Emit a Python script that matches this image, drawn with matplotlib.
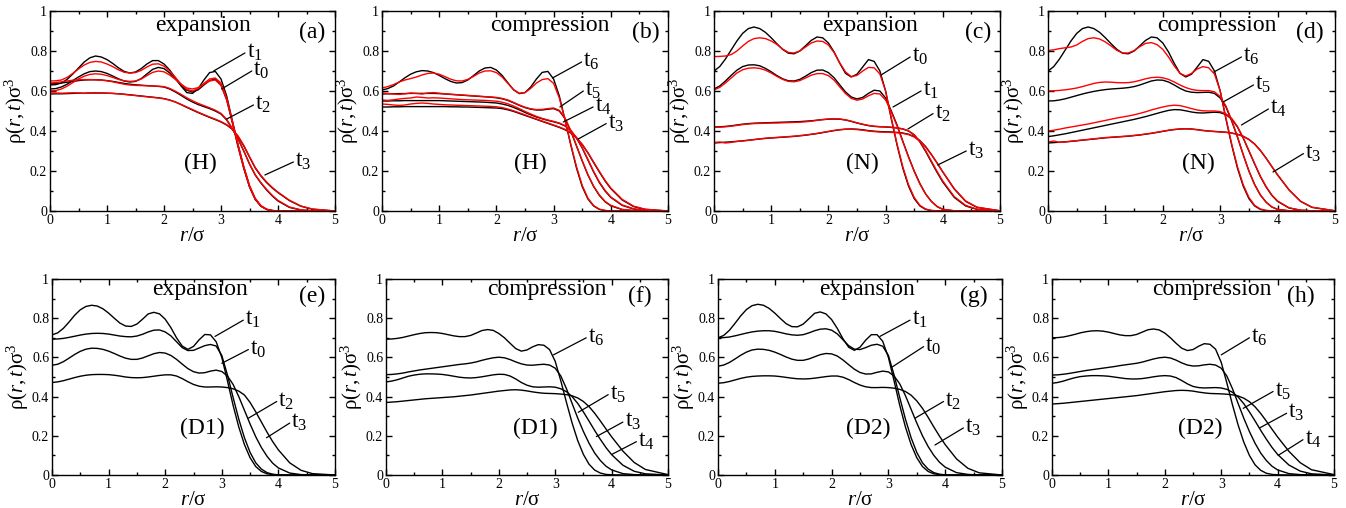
import numpy as np
import matplotlib
matplotlib.use("Agg")
import matplotlib.pyplot as plt
from matplotlib.ticker import MultipleLocator, FuncFormatter

plt.rcParams['font.family'] = 'serif'
plt.rcParams['font.serif'] = ['Liberation Serif', 'DejaVu Serif']
plt.rcParams['mathtext.fontset'] = 'custom'
plt.rcParams['mathtext.rm'] = 'Liberation Serif'
plt.rcParams['mathtext.it'] = 'Liberation Serif:italic'

# r grid shared by all density profiles (r / sigma)
R = [0.0, 0.1, 0.2, 0.3, 0.4, 0.5, 0.6, 0.7, 0.8, 0.9,
     1.0, 1.1, 1.2, 1.3, 1.4, 1.5, 1.6, 1.7, 1.8, 1.9,
     2.0, 2.1, 2.2, 2.3, 2.4, 2.5, 2.6, 2.7, 2.8, 2.9,
     3.0, 3.1, 3.2, 3.3, 3.4, 3.5, 3.6, 3.7, 3.8, 3.9,
     4.0, 4.2, 4.4, 4.6, 5.0]

# ---- (a) H, expansion ----  (_k = black, _r = red)
a_t1_k = [0.630, 0.632, 0.640, 0.658, 0.685, 0.715, 0.745, 0.766, 0.775, 0.770,
          0.757, 0.738, 0.716, 0.698, 0.690, 0.695, 0.712, 0.735, 0.752, 0.752,
          0.735, 0.705, 0.665, 0.625, 0.592, 0.588, 0.612, 0.655, 0.692, 0.698,
          0.660, 0.575, 0.450, 0.330, 0.220, 0.125, 0.060, 0.025, 0.008, 0.002,
          0, 0, 0, 0, 0]
a_t1_r = [0.650, 0.651, 0.655, 0.668, 0.688, 0.710, 0.730, 0.743, 0.748, 0.745,
          0.735, 0.722, 0.706, 0.694, 0.690, 0.692, 0.703, 0.720, 0.734, 0.736,
          0.724, 0.700, 0.668, 0.634, 0.608, 0.600, 0.612, 0.638, 0.660, 0.665,
          0.640, 0.565, 0.445, 0.325, 0.215, 0.122, 0.060, 0.025, 0.008, 0.002,
          0, 0, 0, 0, 0]
a_t0_k = [0.610, 0.612, 0.620, 0.634, 0.652, 0.670, 0.686, 0.697, 0.700, 0.697,
          0.688, 0.675, 0.661, 0.650, 0.645, 0.648, 0.662, 0.685, 0.708, 0.718,
          0.712, 0.690, 0.660, 0.628, 0.604, 0.595, 0.606, 0.630, 0.652, 0.660,
          0.630, 0.555, 0.440, 0.320, 0.212, 0.120, 0.058, 0.024, 0.008, 0.002,
          0, 0, 0, 0, 0]
a_t0_r = [0.600, 0.602, 0.610, 0.624, 0.642, 0.660, 0.674, 0.683, 0.686, 0.684,
          0.677, 0.668, 0.658, 0.651, 0.648, 0.650, 0.660, 0.677, 0.693, 0.700,
          0.696, 0.680, 0.658, 0.634, 0.615, 0.610, 0.617, 0.634, 0.650, 0.655,
          0.628, 0.558, 0.448, 0.330, 0.222, 0.128, 0.064, 0.027, 0.009, 0.003,
          0, 0, 0, 0, 0]
a_t2_k = [0.635, 0.637, 0.640, 0.644, 0.648, 0.652, 0.655, 0.656, 0.656, 0.655,
          0.652, 0.648, 0.643, 0.638, 0.634, 0.631, 0.629, 0.627, 0.625, 0.623,
          0.620, 0.610, 0.595, 0.578, 0.560, 0.545, 0.532, 0.522, 0.512, 0.500,
          0.485, 0.455, 0.410, 0.360, 0.300, 0.235, 0.180, 0.140, 0.105, 0.075,
          0.050, 0.018, 0.005, 0.001, 0]
a_t2_r = [0.640, 0.642, 0.646, 0.650, 0.654, 0.656, 0.657, 0.657, 0.656, 0.654,
          0.651, 0.646, 0.640, 0.634, 0.630, 0.628, 0.627, 0.626, 0.625, 0.624,
          0.622, 0.613, 0.599, 0.583, 0.566, 0.551, 0.538, 0.527, 0.516, 0.504,
          0.488, 0.458, 0.412, 0.360, 0.300, 0.236, 0.182, 0.142, 0.108, 0.078,
          0.053, 0.020, 0.006, 0.001, 0]
a_t3_k = [0.585, 0.586, 0.586, 0.587, 0.588, 0.589, 0.589, 0.590, 0.590, 0.590,
          0.589, 0.588, 0.586, 0.584, 0.581, 0.578, 0.575, 0.572, 0.569, 0.566,
          0.562, 0.555, 0.545, 0.532, 0.518, 0.505, 0.492, 0.480, 0.468, 0.457,
          0.445, 0.430, 0.408, 0.372, 0.325, 0.270, 0.215, 0.175, 0.142, 0.115,
          0.092, 0.052, 0.024, 0.009, 0]
a_t3_r = [0.590, 0.590, 0.589, 0.590, 0.591, 0.590, 0.588, 0.590, 0.592, 0.590,
          0.589, 0.588, 0.586, 0.583, 0.580, 0.577, 0.574, 0.571, 0.568, 0.565,
          0.561, 0.554, 0.545, 0.533, 0.520, 0.507, 0.494, 0.482, 0.470, 0.459,
          0.447, 0.432, 0.410, 0.375, 0.328, 0.272, 0.218, 0.178, 0.145, 0.118,
          0.094, 0.054, 0.025, 0.010, 0]

# ---- (b) H, compression ----
b_t6_k = [0.605, 0.612, 0.625, 0.645, 0.666, 0.684, 0.696, 0.702, 0.700, 0.692,
          0.678, 0.662, 0.648, 0.640, 0.642, 0.655, 0.677, 0.700, 0.715, 0.718,
          0.705, 0.678, 0.641, 0.606, 0.587, 0.592, 0.620, 0.660, 0.693, 0.698,
          0.660, 0.575, 0.455, 0.330, 0.215, 0.122, 0.060, 0.025, 0.008, 0.002,
          0, 0, 0, 0, 0]
b_t6_r = [0.615, 0.622, 0.632, 0.645, 0.655, 0.662, 0.670, 0.680, 0.688, 0.690,
          0.684, 0.672, 0.659, 0.651, 0.650, 0.658, 0.673, 0.690, 0.700, 0.701,
          0.692, 0.670, 0.638, 0.607, 0.589, 0.592, 0.613, 0.640, 0.657, 0.662,
          0.638, 0.565, 0.455, 0.335, 0.222, 0.128, 0.064, 0.027, 0.009, 0.003,
          0, 0, 0, 0, 0]
b_t5_k = [0.585, 0.586, 0.586, 0.587, 0.587, 0.588, 0.588, 0.588, 0.588, 0.588,
          0.587, 0.585, 0.583, 0.581, 0.579, 0.577, 0.575, 0.573, 0.571, 0.569,
          0.566, 0.561, 0.553, 0.541, 0.528, 0.517, 0.509, 0.505, 0.505, 0.509,
          0.512, 0.500, 0.462, 0.400, 0.325, 0.250, 0.180, 0.122, 0.078, 0.046,
          0.026, 0.007, 0.002, 0, 0]
b_t5_r = [0.590, 0.588, 0.585, 0.583, 0.586, 0.590, 0.588, 0.585, 0.590, 0.592,
          0.589, 0.586, 0.584, 0.582, 0.580, 0.578, 0.576, 0.574, 0.572, 0.570,
          0.568, 0.563, 0.555, 0.543, 0.530, 0.519, 0.511, 0.507, 0.508, 0.512,
          0.515, 0.503, 0.465, 0.402, 0.327, 0.252, 0.182, 0.124, 0.080, 0.048,
          0.028, 0.008, 0.002, 0, 0]
b_t4_k = [0.550, 0.550, 0.551, 0.551, 0.552, 0.552, 0.552, 0.552, 0.552, 0.552,
          0.552, 0.551, 0.550, 0.549, 0.548, 0.547, 0.546, 0.545, 0.544, 0.542,
          0.540, 0.535, 0.528, 0.518, 0.506, 0.493, 0.481, 0.470, 0.461, 0.453,
          0.446, 0.438, 0.425, 0.402, 0.365, 0.315, 0.255, 0.195, 0.142, 0.100,
          0.068, 0.028, 0.010, 0.003, 0]
b_t4_r = [0.555, 0.553, 0.556, 0.560, 0.563, 0.565, 0.570, 0.568, 0.565, 0.566,
          0.565, 0.563, 0.561, 0.559, 0.557, 0.556, 0.555, 0.554, 0.553, 0.551,
          0.549, 0.544, 0.536, 0.525, 0.512, 0.498, 0.485, 0.473, 0.463, 0.455,
          0.448, 0.440, 0.427, 0.404, 0.367, 0.317, 0.258, 0.198, 0.145, 0.103,
          0.070, 0.030, 0.011, 0.003, 0]
b_t3_k = [0.520, 0.520, 0.521, 0.521, 0.522, 0.522, 0.522, 0.522, 0.522, 0.522,
          0.522, 0.522, 0.521, 0.521, 0.520, 0.520, 0.519, 0.518, 0.517, 0.516,
          0.515, 0.512, 0.506, 0.498, 0.488, 0.478, 0.468, 0.458, 0.448, 0.438,
          0.428, 0.418, 0.406, 0.390, 0.365, 0.332, 0.290, 0.242, 0.195, 0.150,
          0.112, 0.055, 0.022, 0.008, 0]
b_t3_r = [0.535, 0.533, 0.530, 0.528, 0.530, 0.535, 0.538, 0.540, 0.538, 0.535,
          0.533, 0.531, 0.530, 0.529, 0.528, 0.527, 0.526, 0.525, 0.524, 0.523,
          0.521, 0.517, 0.510, 0.501, 0.491, 0.481, 0.470, 0.460, 0.450, 0.440,
          0.430, 0.420, 0.408, 0.392, 0.367, 0.334, 0.292, 0.245, 0.198, 0.153,
          0.115, 0.058, 0.024, 0.009, 0]

# ---- (c) N, expansion ----
c_t0_k = [0.700, 0.722, 0.760, 0.805, 0.850, 0.888, 0.912, 0.920, 0.912, 0.893,
          0.866, 0.836, 0.808, 0.789, 0.786, 0.800, 0.826, 0.853, 0.870, 0.866,
          0.840, 0.795, 0.738, 0.688, 0.670, 0.684, 0.720, 0.757, 0.748, 0.700,
          0.600, 0.460, 0.330, 0.215, 0.125, 0.062, 0.025, 0.008, 0.002, 0.001,
          0, 0, 0, 0, 0]
c_t0_r = [0.772, 0.773, 0.775, 0.782, 0.800, 0.825, 0.848, 0.862, 0.866, 0.862,
          0.850, 0.833, 0.810, 0.793, 0.790, 0.800, 0.820, 0.840, 0.850, 0.848,
          0.830, 0.792, 0.740, 0.695, 0.672, 0.678, 0.700, 0.718, 0.716, 0.685,
          0.600, 0.465, 0.335, 0.222, 0.132, 0.068, 0.028, 0.010, 0.003, 0.001,
          0, 0, 0, 0, 0]
c_t1_k = [0.610, 0.625, 0.650, 0.678, 0.704, 0.722, 0.730, 0.731, 0.726, 0.713,
          0.696, 0.677, 0.661, 0.651, 0.650, 0.658, 0.674, 0.692, 0.704, 0.705,
          0.692, 0.666, 0.630, 0.595, 0.570, 0.560, 0.568, 0.588, 0.604, 0.600,
          0.565, 0.500, 0.430, 0.350, 0.272, 0.200, 0.137, 0.085, 0.048, 0.022,
          0.008, 0.001, 0, 0, 0]
c_t1_r = [0.605, 0.618, 0.640, 0.665, 0.690, 0.706, 0.714, 0.716, 0.713, 0.704,
          0.690, 0.673, 0.658, 0.648, 0.646, 0.652, 0.665, 0.679, 0.687, 0.687,
          0.677, 0.654, 0.620, 0.587, 0.563, 0.554, 0.560, 0.576, 0.588, 0.585,
          0.555, 0.495, 0.425, 0.347, 0.270, 0.198, 0.135, 0.085, 0.048, 0.023,
          0.009, 0.001, 0, 0, 0]
c_t2_k = [0.420, 0.421, 0.423, 0.426, 0.430, 0.434, 0.437, 0.439, 0.440, 0.441,
          0.442, 0.443, 0.444, 0.445, 0.446, 0.447, 0.449, 0.451, 0.454, 0.457,
          0.459, 0.460, 0.459, 0.455, 0.448, 0.440, 0.433, 0.427, 0.423, 0.421,
          0.420, 0.418, 0.415, 0.410, 0.400, 0.380, 0.345, 0.298, 0.245, 0.193,
          0.145, 0.068, 0.025, 0.008, 0]
c_t2_r = [0.418, 0.419, 0.421, 0.424, 0.428, 0.432, 0.435, 0.437, 0.438, 0.439,
          0.440, 0.440, 0.441, 0.442, 0.443, 0.444, 0.446, 0.449, 0.453, 0.457,
          0.460, 0.461, 0.460, 0.456, 0.449, 0.441, 0.434, 0.428, 0.424, 0.422,
          0.421, 0.419, 0.416, 0.411, 0.401, 0.382, 0.348, 0.302, 0.250, 0.198,
          0.150, 0.072, 0.028, 0.009, 0]
c_t3_k = [0.340, 0.342, 0.344, 0.346, 0.348, 0.351, 0.354, 0.357, 0.360, 0.363,
          0.365, 0.367, 0.369, 0.371, 0.373, 0.376, 0.379, 0.383, 0.387, 0.392,
          0.397, 0.402, 0.406, 0.409, 0.410, 0.409, 0.406, 0.402, 0.399, 0.397,
          0.396, 0.395, 0.393, 0.390, 0.384, 0.372, 0.352, 0.322, 0.283, 0.240,
          0.195, 0.110, 0.048, 0.018, 0.001]
c_t3_r = [0.343, 0.345, 0.340, 0.343, 0.348, 0.350, 0.353, 0.357, 0.361, 0.364,
          0.366, 0.368, 0.370, 0.372, 0.374, 0.377, 0.380, 0.384, 0.388, 0.393,
          0.398, 0.403, 0.407, 0.409, 0.409, 0.407, 0.404, 0.400, 0.397, 0.395,
          0.394, 0.393, 0.391, 0.388, 0.382, 0.370, 0.350, 0.320, 0.282, 0.240,
          0.196, 0.112, 0.050, 0.019, 0.001]

# ---- (d) N, compression ----
d_t6_k = [0.700, 0.722, 0.760, 0.805, 0.850, 0.888, 0.912, 0.920, 0.912, 0.893,
          0.866, 0.836, 0.808, 0.789, 0.786, 0.800, 0.826, 0.853, 0.870, 0.866,
          0.840, 0.795, 0.738, 0.688, 0.670, 0.684, 0.720, 0.757, 0.748, 0.700,
          0.600, 0.460, 0.330, 0.215, 0.125, 0.062, 0.025, 0.008, 0.002, 0.001,
          0, 0, 0, 0, 0]
d_t6_r = [0.802, 0.806, 0.812, 0.816, 0.820, 0.830, 0.848, 0.862, 0.866, 0.860,
          0.845, 0.825, 0.803, 0.790, 0.790, 0.802, 0.822, 0.838, 0.842, 0.832,
          0.808, 0.770, 0.725, 0.688, 0.675, 0.688, 0.710, 0.722, 0.716, 0.685,
          0.600, 0.465, 0.335, 0.222, 0.132, 0.068, 0.028, 0.010, 0.003, 0.001,
          0, 0, 0, 0, 0]
d_t5_k = [0.550, 0.551, 0.555, 0.561, 0.569, 0.577, 0.585, 0.592, 0.598, 0.603,
          0.607, 0.610, 0.612, 0.614, 0.617, 0.622, 0.630, 0.640, 0.650, 0.655,
          0.654, 0.645, 0.630, 0.613, 0.600, 0.594, 0.592, 0.593, 0.594, 0.588,
          0.565, 0.520, 0.450, 0.370, 0.282, 0.200, 0.132, 0.080, 0.044, 0.020,
          0.008, 0.001, 0, 0, 0]
d_t5_r = [0.600, 0.601, 0.603, 0.606, 0.610, 0.615, 0.622, 0.630, 0.638, 0.643,
          0.645, 0.644, 0.642, 0.641, 0.642, 0.646, 0.653, 0.661, 0.667, 0.669,
          0.666, 0.658, 0.645, 0.630, 0.617, 0.608, 0.603, 0.602, 0.602, 0.596,
          0.572, 0.525, 0.455, 0.372, 0.283, 0.200, 0.132, 0.080, 0.044, 0.020,
          0.008, 0.001, 0, 0, 0]
d_t4_k = [0.372, 0.376, 0.381, 0.386, 0.392, 0.398, 0.404, 0.410, 0.416, 0.422,
          0.428, 0.434, 0.440, 0.446, 0.452, 0.458, 0.465, 0.472, 0.480, 0.488,
          0.496, 0.503, 0.507, 0.506, 0.501, 0.495, 0.491, 0.490, 0.492, 0.494,
          0.492, 0.482, 0.460, 0.420, 0.365, 0.300, 0.235, 0.172, 0.120, 0.078,
          0.048, 0.015, 0.004, 0.001, 0]
d_t4_r = [0.400, 0.404, 0.409, 0.415, 0.420, 0.425, 0.430, 0.435, 0.441, 0.447,
          0.453, 0.459, 0.465, 0.470, 0.475, 0.481, 0.488, 0.496, 0.505, 0.513,
          0.520, 0.526, 0.529, 0.527, 0.520, 0.512, 0.505, 0.501, 0.500, 0.500,
          0.497, 0.486, 0.463, 0.423, 0.367, 0.302, 0.237, 0.174, 0.122, 0.080,
          0.050, 0.016, 0.004, 0.001, 0]
d_t3_k = [0.340, 0.342, 0.344, 0.346, 0.348, 0.351, 0.354, 0.357, 0.360, 0.363,
          0.366, 0.368, 0.370, 0.372, 0.374, 0.377, 0.380, 0.384, 0.388, 0.393,
          0.398, 0.403, 0.407, 0.410, 0.411, 0.410, 0.407, 0.403, 0.400, 0.398,
          0.396, 0.394, 0.390, 0.384, 0.374, 0.358, 0.335, 0.303, 0.264, 0.222,
          0.180, 0.105, 0.048, 0.018, 0.001]
d_t3_r = [0.345, 0.350, 0.343, 0.345, 0.349, 0.352, 0.355, 0.358, 0.361, 0.364,
          0.367, 0.369, 0.371, 0.373, 0.375, 0.378, 0.381, 0.385, 0.389, 0.394,
          0.399, 0.404, 0.408, 0.410, 0.411, 0.409, 0.406, 0.402, 0.399, 0.397,
          0.395, 0.393, 0.389, 0.383, 0.373, 0.357, 0.334, 0.302, 0.264, 0.222,
          0.181, 0.106, 0.049, 0.019, 0.001]

# ---- (e) D1, expansion ----
e_t1 = [0.715, 0.725, 0.748, 0.780, 0.815, 0.843, 0.860, 0.866, 0.862, 0.848,
        0.826, 0.800, 0.775, 0.760, 0.758, 0.770, 0.795, 0.822, 0.830, 0.822,
        0.795, 0.752, 0.700, 0.658, 0.641, 0.656, 0.690, 0.717, 0.715, 0.680,
        0.600, 0.480, 0.355, 0.245, 0.155, 0.088, 0.043, 0.018, 0.006, 0.002,
        0, 0, 0, 0, 0]
e_t0 = [0.693, 0.694, 0.697, 0.702, 0.708, 0.714, 0.719, 0.722, 0.723, 0.722,
        0.719, 0.714, 0.709, 0.706, 0.705, 0.709, 0.718, 0.730, 0.739, 0.740,
        0.730, 0.710, 0.680, 0.650, 0.635, 0.636, 0.648, 0.660, 0.666, 0.658,
        0.610, 0.510, 0.395, 0.285, 0.190, 0.115, 0.062, 0.030, 0.012, 0.004,
        0.001, 0, 0, 0, 0]
e_t2 = [0.560, 0.565, 0.578, 0.596, 0.615, 0.631, 0.642, 0.647, 0.646, 0.641,
        0.632, 0.620, 0.607, 0.596, 0.590, 0.590, 0.597, 0.608, 0.619, 0.625,
        0.622, 0.610, 0.590, 0.566, 0.543, 0.527, 0.520, 0.522, 0.530, 0.535,
        0.528, 0.505, 0.462, 0.400, 0.330, 0.260, 0.195, 0.140, 0.095, 0.060,
        0.036, 0.010, 0.002, 0, 0]
e_t3 = [0.472, 0.475, 0.481, 0.489, 0.497, 0.504, 0.509, 0.512, 0.513, 0.513,
        0.512, 0.509, 0.505, 0.500, 0.497, 0.496, 0.497, 0.500, 0.504, 0.508,
        0.511, 0.511, 0.505, 0.492, 0.476, 0.462, 0.453, 0.449, 0.449, 0.450,
        0.449, 0.446, 0.440, 0.428, 0.408, 0.370, 0.322, 0.270, 0.218, 0.170,
        0.128, 0.062, 0.024, 0.007, 0]

# ---- (f) D1, compression ----
f_t6 = [0.693, 0.694, 0.697, 0.702, 0.709, 0.716, 0.722, 0.726, 0.727, 0.726,
        0.722, 0.716, 0.710, 0.706, 0.706, 0.712, 0.724, 0.737, 0.742, 0.738,
        0.722, 0.700, 0.672, 0.645, 0.632, 0.638, 0.654, 0.665, 0.662, 0.640,
        0.580, 0.480, 0.370, 0.265, 0.175, 0.105, 0.055, 0.025, 0.010, 0.003,
        0.001, 0, 0, 0, 0]
f_t5 = [0.512, 0.513, 0.516, 0.520, 0.526, 0.531, 0.536, 0.540, 0.544, 0.548,
        0.552, 0.556, 0.560, 0.564, 0.567, 0.571, 0.577, 0.585, 0.592, 0.598,
        0.601, 0.598, 0.589, 0.577, 0.567, 0.561, 0.560, 0.563, 0.565, 0.561,
        0.545, 0.505, 0.440, 0.365, 0.290, 0.222, 0.162, 0.112, 0.074, 0.045,
        0.026, 0.007, 0.002, 0, 0]
f_t3 = [0.475, 0.479, 0.486, 0.495, 0.504, 0.510, 0.514, 0.516, 0.516, 0.515,
        0.513, 0.509, 0.504, 0.499, 0.496, 0.495, 0.497, 0.501, 0.506, 0.511,
        0.514, 0.513, 0.505, 0.490, 0.472, 0.458, 0.450, 0.448, 0.449, 0.450,
        0.448, 0.440, 0.425, 0.400, 0.365, 0.322, 0.275, 0.227, 0.182, 0.140,
        0.104, 0.050, 0.019, 0.006, 0]
f_t4 = [0.370, 0.372, 0.374, 0.377, 0.380, 0.383, 0.386, 0.389, 0.391, 0.393,
        0.395, 0.397, 0.399, 0.402, 0.405, 0.408, 0.412, 0.416, 0.420, 0.424,
        0.428, 0.431, 0.434, 0.435, 0.433, 0.429, 0.424, 0.420, 0.417, 0.416,
        0.415, 0.413, 0.410, 0.404, 0.393, 0.375, 0.349, 0.315, 0.276, 0.235,
        0.195, 0.122, 0.064, 0.028, 0.002]

# ---- (g) D2, expansion ----
g_t1 = [0.700, 0.712, 0.738, 0.774, 0.812, 0.844, 0.864, 0.871, 0.866, 0.850,
        0.826, 0.798, 0.772, 0.757, 0.756, 0.770, 0.797, 0.825, 0.832, 0.822,
        0.793, 0.748, 0.695, 0.652, 0.636, 0.652, 0.688, 0.716, 0.716, 0.682,
        0.600, 0.480, 0.355, 0.245, 0.155, 0.088, 0.043, 0.018, 0.006, 0.002,
        0, 0, 0, 0, 0]
g_t0 = [0.700, 0.701, 0.704, 0.710, 0.717, 0.724, 0.730, 0.734, 0.736, 0.736,
        0.733, 0.727, 0.720, 0.715, 0.713, 0.716, 0.725, 0.736, 0.744, 0.746,
        0.739, 0.720, 0.690, 0.660, 0.642, 0.640, 0.650, 0.662, 0.667, 0.657,
        0.610, 0.510, 0.395, 0.285, 0.190, 0.115, 0.062, 0.030, 0.012, 0.004,
        0.001, 0, 0, 0, 0]
g_t2 = [0.555, 0.561, 0.574, 0.592, 0.611, 0.627, 0.638, 0.642, 0.641, 0.636,
        0.627, 0.615, 0.602, 0.591, 0.585, 0.585, 0.592, 0.603, 0.614, 0.620,
        0.618, 0.607, 0.587, 0.563, 0.540, 0.523, 0.515, 0.516, 0.524, 0.530,
        0.526, 0.505, 0.465, 0.405, 0.335, 0.265, 0.200, 0.145, 0.100, 0.065,
        0.040, 0.012, 0.003, 0, 0]
g_t3 = [0.468, 0.471, 0.477, 0.485, 0.493, 0.499, 0.503, 0.505, 0.506, 0.506,
        0.505, 0.502, 0.498, 0.494, 0.491, 0.490, 0.491, 0.494, 0.498, 0.502,
        0.505, 0.505, 0.499, 0.487, 0.472, 0.459, 0.450, 0.446, 0.446, 0.447,
        0.446, 0.443, 0.437, 0.426, 0.407, 0.378, 0.340, 0.294, 0.245, 0.198,
        0.155, 0.082, 0.034, 0.011, 0]

# ---- (h) D2, compression ----
h_t6 = [0.700, 0.701, 0.704, 0.710, 0.717, 0.725, 0.731, 0.735, 0.736, 0.734,
        0.729, 0.722, 0.715, 0.711, 0.711, 0.717, 0.729, 0.741, 0.745, 0.740,
        0.724, 0.700, 0.672, 0.647, 0.635, 0.640, 0.657, 0.670, 0.667, 0.642,
        0.575, 0.470, 0.358, 0.255, 0.168, 0.100, 0.052, 0.024, 0.009, 0.003,
        0.001, 0, 0, 0, 0]
h_t5 = [0.510, 0.511, 0.514, 0.518, 0.523, 0.528, 0.533, 0.537, 0.541, 0.545,
        0.549, 0.553, 0.558, 0.562, 0.566, 0.570, 0.576, 0.584, 0.592, 0.598,
        0.601, 0.597, 0.586, 0.572, 0.561, 0.556, 0.557, 0.562, 0.565, 0.561,
        0.545, 0.505, 0.440, 0.365, 0.290, 0.222, 0.162, 0.112, 0.074, 0.045,
        0.026, 0.007, 0.002, 0, 0]
h_t3 = [0.468, 0.472, 0.479, 0.488, 0.496, 0.502, 0.505, 0.507, 0.507, 0.506,
        0.504, 0.500, 0.496, 0.492, 0.490, 0.490, 0.492, 0.496, 0.501, 0.505,
        0.507, 0.505, 0.497, 0.482, 0.465, 0.452, 0.446, 0.444, 0.445, 0.446,
        0.444, 0.437, 0.422, 0.398, 0.364, 0.322, 0.276, 0.228, 0.183, 0.141,
        0.105, 0.051, 0.020, 0.006, 0]
h_t4 = [0.362, 0.364, 0.366, 0.369, 0.372, 0.375, 0.378, 0.381, 0.384, 0.387,
        0.390, 0.393, 0.396, 0.399, 0.402, 0.405, 0.409, 0.413, 0.417, 0.421,
        0.425, 0.428, 0.431, 0.432, 0.431, 0.428, 0.423, 0.419, 0.416, 0.415,
        0.414, 0.412, 0.409, 0.403, 0.392, 0.374, 0.348, 0.314, 0.275, 0.234,
        0.194, 0.121, 0.063, 0.027, 0.002]

panels = [
    dict(tag='(a)', title='expansion', model='(H)', rect=(50, 11, 285, 200),
         black=[a_t1_k, a_t0_k, a_t2_k, a_t3_k], red=[a_t1_r, a_t0_r, a_t2_r, a_t3_r],
         labels=[('1', (2.87, 0.70), (3.42, 0.79)), ('0', (3.01, 0.61), (3.54, 0.70)),
                 ('2', (3.10, 0.46), (3.57, 0.53)), ('3', (3.77, 0.18), (4.27, 0.245))],
         pos=(2.69, 4.59, 2.63)),
    dict(tag='(b)', title='compression', model='(H)', rect=(382, 11, 286, 200),
         black=[b_t6_k, b_t5_k, b_t4_k, b_t3_k], red=[b_t6_r, b_t5_r, b_t4_r, b_t3_r],
         labels=[('6', (2.98, 0.665), (3.49, 0.745)), ('5', (3.11, 0.52), (3.52, 0.60)),
                 ('4', (3.17, 0.445), (3.69, 0.52)), ('3', (3.43, 0.36), (3.92, 0.437))],
         pos=(2.94, 4.62, 2.59)),
    dict(tag='(c)', title='expansion', model='(N)', rect=(714, 11, 286, 200),
         black=[c_t0_k, c_t1_k, c_t2_k, c_t3_k], red=[c_t0_r, c_t1_r, c_t2_r, c_t3_r],
         labels=[('0', (2.92, 0.68), (3.43, 0.77)), ('1', (3.13, 0.52), (3.62, 0.60)),
                 ('2', (3.39, 0.41), (3.83, 0.487)), ('3', (3.91, 0.23), (4.41, 0.30))],
         pos=(2.72, 4.61, 2.60)),
    dict(tag='(d)', title='compression', model='(N)', rect=(1048, 11, 287, 200),
         black=[d_t6_k, d_t5_k, d_t4_k, d_t3_k], red=[d_t6_r, d_t5_r, d_t4_r, d_t3_r],
         labels=[('6', (2.89, 0.695), (3.37, 0.77)), ('5', (3.05, 0.545), (3.58, 0.63)),
                 ('4', (3.37, 0.43), (3.84, 0.51)), ('3', (3.92, 0.195), (4.45, 0.287))],
         pos=(2.94, 4.56, 2.62)),
    dict(tag='(e)', title='expansion', model='(D1)', rect=(52, 279, 283, 196),
         black=[e_t1, e_t0, e_t2, e_t3], red=[],
         labels=[('1', (2.88, 0.707), (3.38, 0.79)), ('0', (3.00, 0.57), (3.47, 0.64)),
                 ('2', (3.47, 0.29), (3.97, 0.375)), ('3', (3.79, 0.19), (4.20, 0.265))],
         pos=(2.62, 4.59, 2.65)),
    dict(tag='(f)', title='compression', model='(D1)', rect=(386, 279, 282, 196),
         black=[f_t6, f_t5, f_t3, f_t4], red=[],
         labels=[('6', (2.97, 0.613), (3.55, 0.70)), ('5', (3.41, 0.32), (3.94, 0.41)),
                 ('3', (3.73, 0.196), (4.20, 0.27)), ('4', (4.01, 0.106), (4.44, 0.17))],
         pos=(2.85, 4.50, 2.64)),
    dict(tag='(g)', title='expansion', model='(D2)', rect=(718, 279, 284, 196),
         black=[g_t1, g_t0, g_t2, g_t3], red=[],
         labels=[('1', (2.85, 0.707), (3.38, 0.79)), ('0', (3.06, 0.55), (3.62, 0.655)),
                 ('2', (3.47, 0.29), (3.97, 0.375)), ('3', (3.82, 0.153), (4.32, 0.24))],
         pos=(2.62, 4.50, 2.65)),
    dict(tag='(h)', title='compression', model='(D2)', rect=(1052, 279, 282, 196),
         black=[h_t6, h_t5, h_t3, h_t4], red=[],
         labels=[('6', (3.00, 0.613), (3.50, 0.70)), ('5', (3.39, 0.34), (3.92, 0.426)),
                 ('3', (3.68, 0.24), (4.16, 0.315)), ('4', (4.01, 0.10), (4.45, 0.18))],
         pos=(2.83, 4.42, 2.62)),
]

W, H = 1346, 508
fig = plt.figure(figsize=(W / 100, H / 100), dpi=100)

for p in panels:
    x0, y0, w, h = p['rect']
    ax = fig.add_axes([x0 / W, 1 - (y0 + h) / H, w / W, h / H])
    for y in p['black']:
        ax.plot(R, y, color='black', lw=1.0)
    for y in p['red']:
        ax.plot(R, y, color='red', lw=1.0)

    ax.set_xlim(0, 5)
    ax.set_ylim(0, 1)
    ax.xaxis.set_major_locator(MultipleLocator(1))
    ax.xaxis.set_minor_locator(MultipleLocator(0.5))
    ax.yaxis.set_major_locator(MultipleLocator(0.2))
    ax.yaxis.set_minor_locator(MultipleLocator(0.1))
    ax.yaxis.set_major_formatter(FuncFormatter(lambda v, _: '%g' % round(v, 2)))
    ax.tick_params(which='both', direction='in', top=True, right=True, labelsize=10, pad=2)
    ax.tick_params(which='major', length=4, width=1)
    ax.tick_params(which='minor', length=2, width=1)
    for s in ax.spines.values():
        s.set_linewidth(1.0)

    ax.set_xlabel(r'$\mathit{r}$/σ', fontsize=15, labelpad=0)
    ax.set_ylabel(r'ρ($\mathit{r,t}$)σ$^{3}$', fontsize=15, labelpad=1)

    xt, xtag, xm = p['pos']
    ytop = 0.93 if y0 < 100 else 0.945
    ax.text(xt, ytop, p['title'], fontsize=17, ha='center', va='center')
    ax.text(xtag, ytop - 0.035, p['tag'], fontsize=17, ha='center', va='center')
    ax.text(xm, 0.24, p['model'], fontsize=17, ha='center', va='center')

    for sub, start, end in p['labels']:
        ax.annotate('', xy=start, xytext=end,
                    arrowprops=dict(arrowstyle='-', lw=0.9, color='black',
                                    shrinkA=0, shrinkB=0))
        ax.text(end[0] + 0.03, end[1] - 0.025, 't$_{%s}$' % sub, fontsize=17,
                ha='left', va='baseline')

fig.savefig('out.png', dpi=100)
